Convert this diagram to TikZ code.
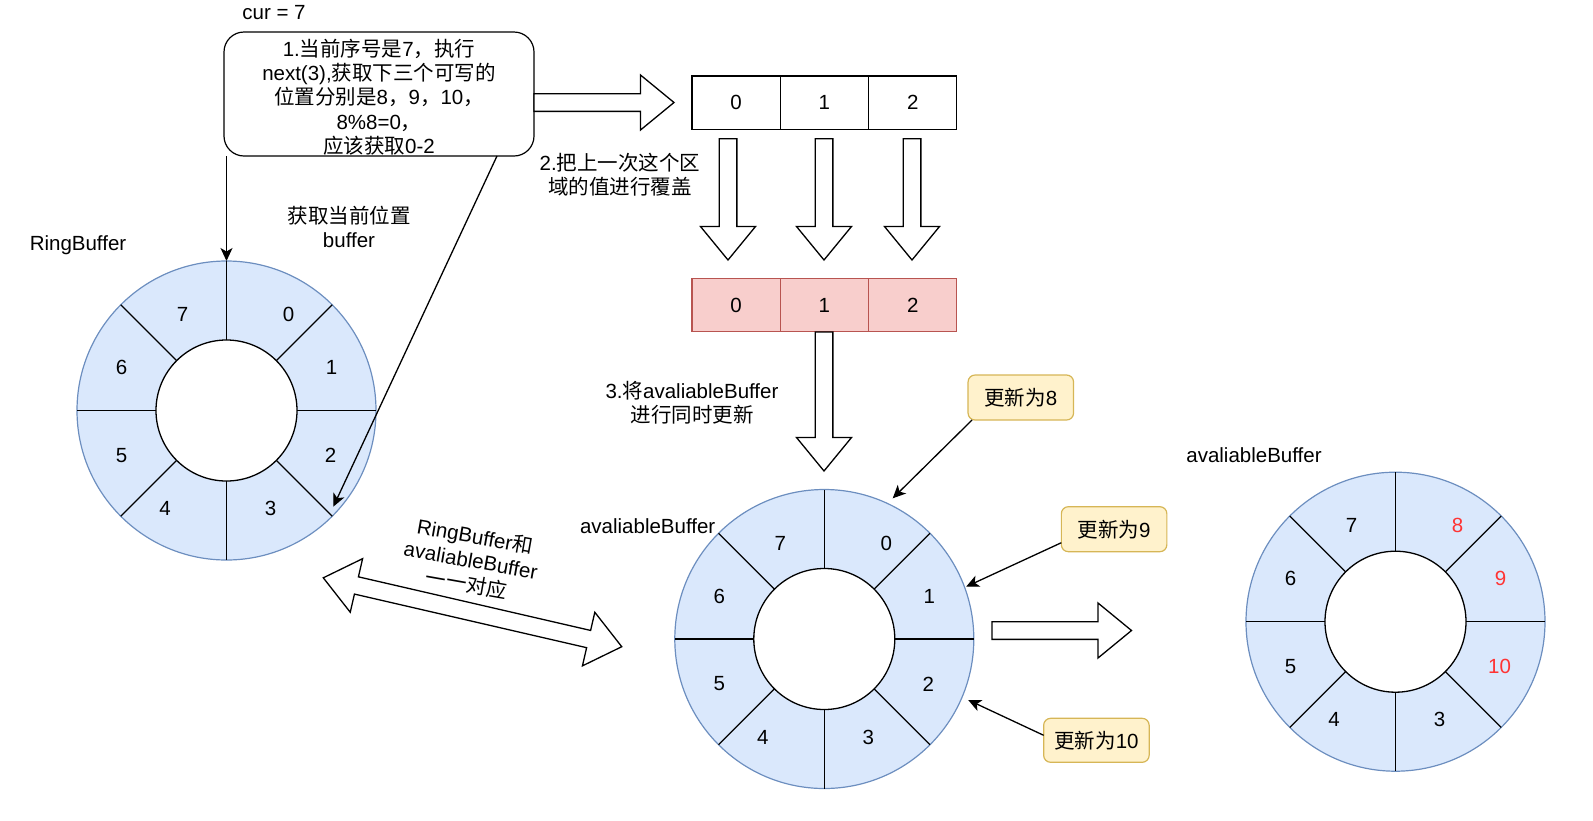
\documentclass[tikz,border=0pt]{standalone}
\usepackage{fontspec}
\setmainfont{Liberation Sans}
\newfontfamily\cjk{Noto Sans CJK SC}
\newcommand\zh[1]{{\cjk #1}}
\usetikzlibrary{arrows.meta,calc}
\definecolor{ringfill}{HTML}{DAE8FC}
\definecolor{ringdraw}{HTML}{6C8EBF}
\definecolor{redfill}{HTML}{F8CECC}
\definecolor{reddraw}{HTML}{B85450}
\definecolor{notefill}{HTML}{FFF2CC}
\definecolor{notedraw}{HTML}{D6B656}
\definecolor{hot}{HTML}{FF3333}
\newcommand\hollowarrow[4]{%
  \begin{scope}[shift={(#1,#2)},rotate=#3]
    \draw[hollow] (0,-8.85) -- ({#4-33.5},-8.85) -- ({#4-33.5},-27.5) -- (#4,0) -- ({#4-33.5},27.5) -- ({#4-33.5},8.85) -- (0,8.85) -- cycle;
  \end{scope}}
\newcommand\ringbuf[3]{%
  \node[outerring] (#1) at (#2,#3) {};
  \node[innerring] (#1in) at (#2,#3) {};
  \foreach \a in {0,45,...,315} \draw[spoke] (#1in.\a) -- (#1.\a);}
\newcommand\ringlabels[9]{%
  \node (#1l0) at ([shift={(62,-96)}]#1.center) {#2};
  \node (#1l1) at ([shift={(105,-43)}]#1.center) {#3};
  \node (#1l2) at ([shift={(104,45)}]#1.center) {#4};
  \node (#1l3) at ([shift={(44,98)}]#1.center) {#5};
  \node (#1l4) at ([shift={(-61.5,98)}]#1.center) {#6};
  \node (#1l5) at ([shift={(-105,45)}]#1.center) {#7};
  \node (#1l6) at ([shift={(-105,-43)}]#1.center) {#8};
  \node (#1l7) at ([shift={(-44,-96)}]#1.center) {#9};}
\begin{document}
\begin{tikzpicture}[x=1pt,y=-1pt,
  every node/.style={font=\fontsize{20.5}{24.3}\selectfont, inner sep=0pt, outer sep=0pt},
  hollow/.style={draw=black, fill=white, line width=1.3pt, line join=miter},
  conn/.style={draw=black, line width=1.3pt, -{Stealth[length=13pt,width=12pt,inset=3.5pt]}},
  cellbox/.style={draw=black, line width=1.2pt, minimum width=88.3pt, minimum height=53.3pt},
  redcell/.style={cellbox, draw=reddraw, fill=redfill},
  outerring/.style={circle, draw=ringdraw, fill=ringfill, line width=1.2pt, minimum size=299pt},
  innerring/.style={circle, draw=black, fill=white, line width=1.3pt, minimum size=141pt},
  spoke/.style={draw=black, line width=1.3pt},
  note/.style={draw=notedraw, fill=notefill, line width=1.2pt, rounded corners=7pt, minimum width=105.5pt, minimum height=45pt},
  txt/.style={align=center}]
\useasboundingbox (0,0) rectangle (1593,820);

% top box
\node[txt] (cur) at (274,13) {cur = 7};
\node[draw, line width=1.2pt, rounded corners=20pt, minimum width=310pt, minimum height=124pt] (box) at (379,94) {};
\node[txt] (boxtxt) at (379,97)
  {1.\zh{当前序号是}7\zh{，执行}\\next(3),\zh{获取下三个可写的}\\\zh{位置分别是}8\zh{，}9\zh{，}10\zh{，}\\8\%8=0\zh{，}\\\zh{应该获取}0-2};

% arrays
\node[cellbox] (w0) at (736.1,102.6) {0};
\node[cellbox] (w1) at (824.4,102.6) {1};
\node[cellbox] (w2) at (912.7,102.6) {2};
\node[redcell] (p0) at (736.1,305) {0};
\node[redcell] (p1) at (824.4,305) {1};
\node[redcell] (p2) at (912.7,305) {2};

% hollow arrows
\hollowarrow{534}{102.5}{0}{140}
\hollowarrow{728}{138.7}{-90}{121.3}
\hollowarrow{824}{138.7}{-90}{121.3}
\hollowarrow{912}{138.7}{-90}{121.3}
\hollowarrow{824}{332}{-90}{139}
\hollowarrow{992}{630.5}{0}{139.5}
\begin{scope}[shift={(323.3,577.8)},rotate=-13.0]
  \draw[hollow] (0,0) -- (34,-27.5) -- (34,-8.85) -- (272.3,-8.85) -- (272.3,-27.5) -- (306.3,0) -- (272.3,27.5) -- (272.3,8.85) -- (34,8.85) -- (34,27.5) -- cycle;
\end{scope}

% rings
\ringbuf{r1}{226.5}{410.5}
\ringlabels{r1}{0}{1}{2}{3}{4}{5}{6}{7}
\ringbuf{r2}{824.3}{639}
\ringlabels{r2}{0}{1}{2}{3}{4}{5}{6}{7}
\ringbuf{r3}{1395.5}{621.7}
\ringlabels{r3}{\textcolor{hot}{8}}{\textcolor{hot}{9}}{\textcolor{hot}{10}}{3}{4}{5}{6}{7}

% labels
\node[txt] (rbl) at (78,245) {RingBuffer};
\node[txt] (getl) at (349,227) {\zh{获取当前位置}\\buffer};
\node[txt] (step2) at (620,175) {2.\zh{把上一次这个区}\\\zh{域的值进行覆盖}};
\node[txt] (step3) at (692,403) {3.\zh{将}avaliableBuffer\\\zh{进行同时更新}};
\node[txt] (ab2) at (647.7,525.7) {avaliableBuffer};
\node[txt] (ab3) at (1254,455) {avaliableBuffer};
\node[txt, rotate=-10] (corr) at (470.8,560) {RingBuffer\zh{和}\\avaliableBuffer\\\zh{一一对应}};

% callouts
\node[note] (c8) at (1020.8,397.5) {\zh{更新为}8};
\node[note] (c9) at (1114.1,529.2) {\zh{更新为}9};
\node[note, minimum height=44pt] (c10) at (1096.4,740.3) {\zh{更新为}10};

% connectors
\coordinate (a1s) at (box.south -| r1.north);
\draw[conn] (a1s) -- (r1.north);
\coordinate (a2s) at (497,156);
\coordinate (a2e) at (333.3,506.7);
\draw[conn] (a2s) -- (a2e);
\coordinate (t8) at (892.7,498.3);
\coordinate (t9) at (966.1,586.7);
\coordinate (t10) at (968.2,700);
\draw[conn] ([xshift=4pt]c8.south west) -- (t8);
\draw[conn] ([yshift=-13.5pt]c9.west) -- (t9);
\draw[conn] ([yshift=5pt]c10.west) -- (t10);
\end{tikzpicture}
\end{document}
